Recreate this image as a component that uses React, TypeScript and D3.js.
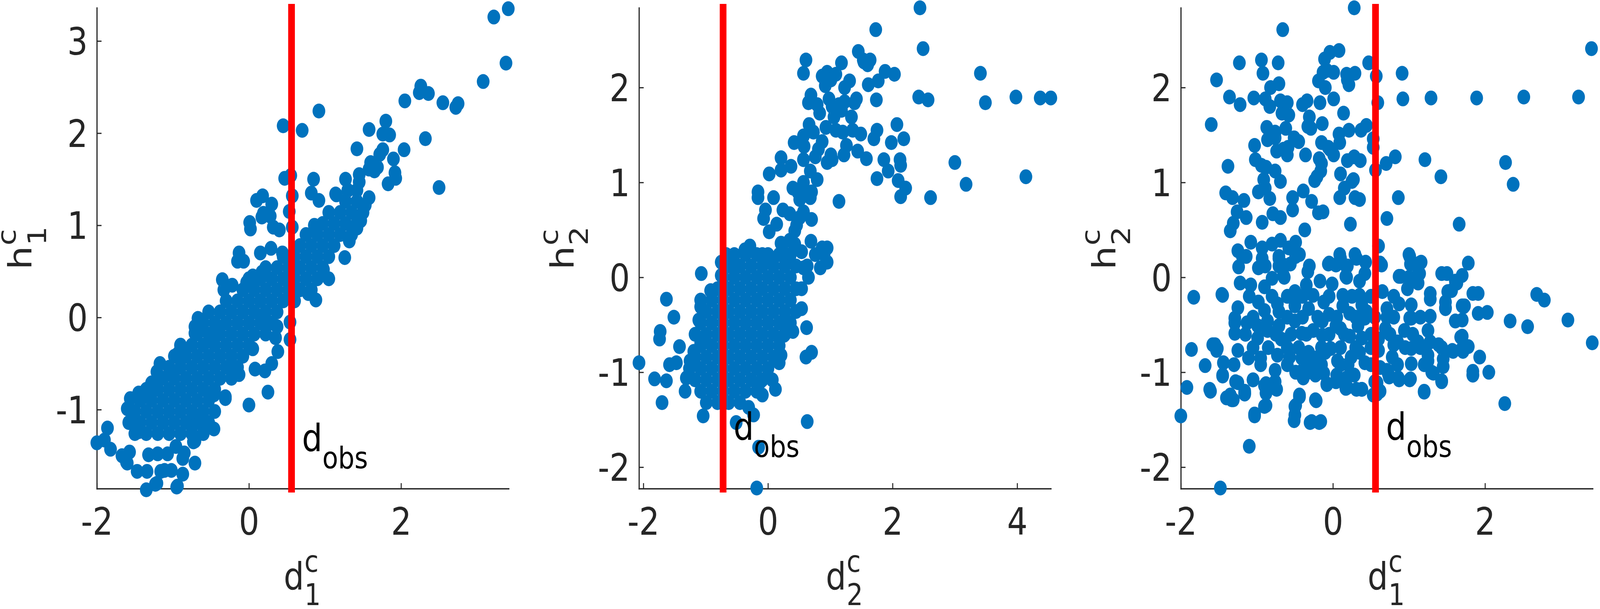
import * as d3 from "d3";
import { useEffect, useRef } from "react";

const VIEW_W = 4775;
const VIEW_H = 1558;
const TOP = 20;
const BOTTOM = 1250;
const PANEL_LEFT = [289, 1907, 3524];
const PANEL_W = 1229;
const TICK = 14;
const DOT_R = 19;
const FONT = "'DejaVu Sans', Verdana, sans-serif";
const AXIS_COLOR = "#262626";
const BLUE = "#0072BD";
const RED = "#FF0000";
const MAIN_SIZE = 96;
const SUB_SIZE = 77;

// axis limits (tight to data)
const limD1 = [-2.0, 3.415];
const limD2 = [-2.07, 4.54];
const limH1 = [-1.857, 3.36];
const limH2 = [-2.226, 2.84];

const ticksD1 = [-2, 0, 2];
const ticksD2 = [-2, 0, 2, 4];
const ticksH1 = [-1, 0, 1, 2, 3];
const ticksH2 = [-2, -1, 0, 1, 2];

// observed values (red lines)
const dObs1 = 0.56;
const dObs2 = -0.72;

// panel 1: (d1, h1)
const d1h1: [number, number][] = [
	[3.41, 3.35], [3.22, 3.26], [3.38, 2.76], [3.08, 2.56], [2.75, 2.32], [2.72, 2.28], [2.55, 2.33],
	[2.32, 1.94], [2.5, 1.41], [2.26, 2.51], [2.24, 2.44], [2.36, 2.43], [2.05, 2.35], [2.04, 1.82],
	[1.8, 2.13], [1.76, 1.99], [1.85, 1.98], [1.58, 2.04], [1.42, 1.83], [1.76, 1.82], [1.72, 1.77],
	[1.9, 1.72], [1.92, 1.57], [1.93, 1.51], [1.83, 1.45], [1.6, 1.68], [1.65, 1.59], [1.69, 1.63],
	[1.58, 1.61], [1.45, 1.55], [1.45, 1.47], [1.42, 1.38], [1.58, 1.3], [1.53, 1.22], [1.27, 1.5],
	[1.3, 1.38], [1.14, 1.34], [1.47, 1.05], [1.42, 0.97], [1.32, 0.83], [1.26, 0.65],
	[0.92, 2.24], [0.7, 2.03], [0.45, 2.08], [0.47, 1.51], [0.55, 1.54], [0.57, 1.32], [0.53, 1.15],
	[0.57, 0.98], [0.85, 1.5], [0.82, 1.35], [0.92, 1.27], [0.1, 1.27], [0.18, 1.32], [0.3, 1.23],
	[0.19, 1.13], [0.17, 1.09], [0.28, 1.1], [0.01, 1.03], [0.02, 0.96], [0.32, 0.98], [0.4, 0.95],
	[-0.13, 0.7], [-0.15, 0.61], [-0.07, 0.61], [0.15, 0.7], [0.29, 0.75], [0.44, 0.7], [-0.35, 0.41],
	[-0.33, 0.3], [-0.22, 0.35], [-0.03, 0.38], [0.05, 0.45], [0.17, 0.49], [0.86, 1.0], [1.15, 1.33],
	[0.98, 0.52], [0.88, 0.19], [0.78, 0.26],
	[-0.67, -0.01], [-0.71, -0.1], [-0.71, -0.17], [-0.62, -0.11], [-0.41, -0.12], [-0.46, -0.22],
	[0.05, -0.34], [0.17, -0.05], [0.37, -0.1], [0.35, -0.22], [0.38, -0.37], [0.3, -0.5], [0.54, -0.05],
	[0.54, -0.24], [0.08, -0.56], [0.21, -0.58], [0.25, -0.81], [0.0, -0.95], [-0.13, -0.62],
	[-0.17, -0.54], [-0.31, -0.86], [-0.31, -0.88], [-0.46, -0.84], [-0.46, -1.21], [-0.71, -1.58],
	[-0.73, -1.35], [-0.87, -1.7], [-0.95, -1.84], [-1.21, -1.8], [-1.35, -1.87], [-1.16, -1.67],
	[-1.11, -1.66], [-1.02, -1.66], [-1.34, -1.67], [-1.47, -1.67], [-1.61, -1.57], [-1.67, -1.5],
	[-1.57, -1.46], [-1.82, -1.43], [-1.9, -1.33], [-2.0, -1.36], [-1.86, -1.2], [-1.32, -1.49],
	[-1.2, -1.48], [-1.07, -1.48], [-0.96, -1.4], [-0.85, -1.47], [-1.45, -1.24], [-1.52, -1.11],
	[-1.6, -0.99], [-1.56, -0.88], [-1.45, -0.82], [-1.34, -0.86], [-1.3, -0.77], [-1.28, -0.71],
	[-1.21, -0.59], [-1.17, -0.5], [-1.02, -0.6], [-0.93, -0.39], [-0.89, -0.37], [-0.71, -1.34],
	[-0.73, -1.14], [-0.58, -1.14], [-0.62, -1.09], [-1.6, -1.58], [-1.23, -1.81], [-0.94, -1.83],
	[-0.87, -1.53], [-0.6, -1.13],
	// dense band
	[-1.5, -1.26], [-1.35, -1.26], [-1.2, -1.26], [-1.05, -1.26], [-0.9, -1.26], [-0.75, -1.26], [-0.6, -1.26],
	[-1.58, -1.14], [-1.43, -1.14], [-1.28, -1.14], [-1.13, -1.14], [-0.98, -1.14], [-0.83, -1.14], [-0.68, -1.14], [-0.53, -1.14],
	[-1.5, -1.02], [-1.35, -1.02], [-1.2, -1.02], [-1.05, -1.02], [-0.9, -1.02], [-0.75, -1.02], [-0.6, -1.02], [-0.45, -1.02],
	[-1.43, -0.9], [-1.28, -0.9], [-1.13, -0.9], [-0.98, -0.9], [-0.83, -0.9], [-0.68, -0.9], [-0.53, -0.9],
	[-1.35, -0.78], [-1.2, -0.78], [-1.05, -0.78], [-0.9, -0.78], [-0.75, -0.78], [-0.6, -0.78], [-0.45, -0.78],
	[-1.13, -0.66], [-0.98, -0.66], [-0.83, -0.66], [-0.68, -0.66], [-0.53, -0.66], [-0.38, -0.66], [-0.23, -0.66],
	[-1.05, -0.54], [-0.9, -0.54], [-0.75, -0.54], [-0.6, -0.54], [-0.45, -0.54], [-0.3, -0.54], [-0.15, -0.54],
	[-0.98, -0.42], [-0.83, -0.42], [-0.68, -0.42], [-0.53, -0.42], [-0.38, -0.42], [-0.23, -0.42], [-0.08, -0.42],
	[-0.9, -0.3], [-0.75, -0.3], [-0.6, -0.3], [-0.45, -0.3], [-0.3, -0.3], [-0.15, -0.3], [0.0, -0.3],
	[-0.68, -0.18], [-0.53, -0.18], [-0.38, -0.18], [-0.23, -0.18], [-0.08, -0.18], [0.07, -0.18], [0.22, -0.18],
	[-0.6, -0.06], [-0.45, -0.06], [-0.3, -0.06], [-0.15, -0.06], [0.0, -0.06], [0.15, -0.06], [0.3, -0.06],
	[-0.53, 0.06], [-0.38, 0.06], [-0.23, 0.06], [-0.08, 0.06], [0.07, 0.06], [0.22, 0.06], [0.37, 0.06],
	[-0.3, 0.18], [-0.15, 0.18], [0.0, 0.18], [0.15, 0.18], [0.3, 0.18], [0.45, 0.18], [0.6, 0.18],
	[-0.08, 0.3], [0.07, 0.3], [0.22, 0.3], [0.37, 0.3], [0.52, 0.3], [0.67, 0.3], [0.82, 0.3],
	[0.0, 0.42], [0.15, 0.42], [0.3, 0.42], [0.45, 0.42], [0.6, 0.42], [0.75, 0.42], [0.9, 0.42], [1.05, 0.42],
	[0.22, 0.54], [0.37, 0.54], [0.52, 0.54], [0.67, 0.54], [0.82, 0.54], [0.97, 0.54],
	[0.45, 0.66], [0.6, 0.66], [0.75, 0.66], [0.9, 0.66], [1.05, 0.66],
	[0.67, 0.78], [0.82, 0.78], [0.97, 0.78], [1.12, 0.78],
	[0.75, 0.9], [0.9, 0.9], [1.05, 0.9], [1.2, 0.9], [1.35, 0.9],
	[0.97, 1.02], [1.12, 1.02], [1.27, 1.02], [1.42, 1.02],
	[1.05, 1.14], [1.2, 1.14], [1.35, 1.14], [1.5, 1.14],
	[1.27, 1.26], [1.42, 1.26],
];

// panel 2: (d2, h2)
const d2h2: [number, number][] = [
	[2.44, 2.84], [2.49, 2.41], [1.73, 2.61], [3.41, 2.15], [3.49, 1.84], [3.98, 1.9], [4.37, 1.89],
	[4.54, 1.89], [2.42, 1.9], [2.57, 1.87], [3.0, 1.21], [3.18, 0.98], [4.14, 1.06], [2.61, 0.84],
	[2.07, 1.61], [2.18, 1.46], [1.98, 1.42], [2.12, 1.24], [2.13, 1.18], [2.09, 1.02], [2.21, 0.94],
	[2.13, 0.85], [1.93, 1.12], [1.86, 1.24], [1.75, 1.04], [1.75, 1.55], [1.7, 1.46], [1.74, 1.87],
	[2.03, 2.14], [1.88, 2.17], [1.77, 2.07], [1.61, 2.03], [1.64, 2.29], [1.54, 2.27], [1.6, 2.24],
	[1.45, 2.38], [1.53, 2.29], [1.18, 2.26], [1.31, 2.07], [1.23, 2.0], [0.95, 2.16], [1.01, 2.08],
	[1.09, 2.14], [0.87, 2.12], [0.92, 2.02], [0.61, 2.29], [0.57, 2.15], [0.69, 1.92], [0.65, 1.84],
	[0.79, 1.82], [0.83, 1.73], [0.98, 1.88], [1.03, 1.8], [1.14, 1.82], [1.23, 1.85], [1.39, 1.84],
	[1.42, 1.88], [1.34, 1.69], [1.18, 1.76], [1.06, 1.69], [0.66, 1.61], [0.73, 1.53], [0.93, 1.58],
	[1.09, 1.55], [1.2, 1.53], [1.36, 1.55], [1.49, 1.51], [0.42, 1.42], [0.57, 1.49], [0.58, 1.38],
	[0.87, 1.43], [0.81, 1.35], [0.76, 1.27], [1.26, 1.39], [1.22, 1.29], [1.44, 1.33], [1.58, 1.25],
	[1.01, 1.29], [0.95, 1.21], [1.03, 1.24], [0.21, 1.26], [0.21, 1.13], [0.37, 1.17], [0.57, 1.24],
	[0.68, 1.12], [0.79, 1.03], [0.57, 1.0], [0.02, 1.09], [-0.16, 0.9], [-0.16, 0.84], [0.09, 0.84],
	[0.4, 0.94], [0.48, 0.9], [0.57, 0.92], [0.68, 0.84], [0.7, 0.9], [0.51, 0.82], [1.14, 0.8],
	[-0.04, 0.71], [-0.07, 0.62], [0.02, 0.48], [0.14, 0.56], [0.24, 0.71], [0.35, 0.67], [0.51, 0.63],
	[0.57, 0.69], [0.7, 0.61], [0.46, 0.55], [0.43, 0.49], [0.21, 0.36], [0.35, 0.39], [0.43, 0.35],
	[0.24, 0.27], [0.35, 0.22], [0.54, 0.27], [0.69, 0.38], [0.87, 0.31], [0.95, 0.31], [0.9, 0.24],
	[0.95, 0.16], [0.84, 0.1], [0.76, 0.24], [0.65, 0.0], [0.54, -0.12], [0.57, 0.1], [0.54, -0.33],
	[0.62, -0.53], [0.61, -0.84], [0.7, -0.79], [0.63, -1.52], [-0.18, -2.22], [-0.15, -1.79],
	[-0.51, -1.53], [-0.23, -1.45], [-0.31, -1.37], [0.12, -1.18], [0.07, -1.08], [0.18, -0.9],
	[0.21, -0.82], [-0.09, -1.24], [-0.12, -1.1], [0.35, -0.53], [0.4, -0.57], [0.32, -0.47],
	[0.26, -0.61], [-1.04, -1.46], [-1.7, -1.32], [-1.82, -1.07], [-2.07, -0.9], [-1.63, -1.09],
	[-1.33, -1.2], [-1.58, -0.92], [-1.47, -0.9], [-1.42, -0.73], [-1.73, -0.57], [-1.74, -0.65],
	[-1.51, -0.42], [-1.63, -0.23], [-1.07, 0.04], [-0.92, -0.14], [-1.08, -0.31], [-1.11, -0.45],
	[-1.08, -0.69], [-1.19, -0.78], [-1.25, -0.88], [-1.31, -1.06], [-0.75, 0.16], [-0.67, 0.24],
	[-0.75, 0.02], [-0.53, 0.11], [-0.37, 0.29], [-0.29, 0.33], [-0.09, 0.24], [0.07, 0.16],
	// dense cluster
	[-0.54, 0.24], [-0.36, 0.24], [-0.18, 0.24], [0.0, 0.24], [0.18, 0.24], [0.36, 0.24],
	[-0.63, 0.12], [-0.45, 0.12], [-0.27, 0.12], [-0.09, 0.12], [0.09, 0.12], [0.27, 0.12], [0.45, 0.12], [0.63, 0.12],
	[-0.72, 0.0], [-0.54, 0.0], [-0.36, 0.0], [-0.18, 0.0], [0.0, 0.0], [0.18, 0.0], [0.36, 0.0],
	[-0.81, -0.12], [-0.63, -0.12], [-0.45, -0.12], [-0.27, -0.12], [-0.09, -0.12], [0.09, -0.12], [0.27, -0.12], [0.45, -0.12],
	[-1.08, -0.24], [-0.9, -0.24], [-0.72, -0.24], [-0.54, -0.24], [-0.36, -0.24], [-0.18, -0.24], [0.0, -0.24], [0.18, -0.24], [0.36, -0.24],
	[-0.99, -0.36], [-0.81, -0.36], [-0.63, -0.36], [-0.45, -0.36], [-0.27, -0.36], [-0.09, -0.36], [0.09, -0.36], [0.27, -0.36], [0.45, -0.36],
	[-1.08, -0.48], [-0.9, -0.48], [-0.72, -0.48], [-0.54, -0.48], [-0.36, -0.48], [-0.18, -0.48], [0.0, -0.48], [0.18, -0.48], [0.36, -0.48],
	[-1.17, -0.6], [-0.99, -0.6], [-0.81, -0.6], [-0.63, -0.6], [-0.45, -0.6], [-0.27, -0.6], [-0.09, -0.6], [0.09, -0.6], [0.27, -0.6],
	[-1.08, -0.72], [-0.9, -0.72], [-0.72, -0.72], [-0.54, -0.72], [-0.36, -0.72], [-0.18, -0.72], [0.0, -0.72], [0.18, -0.72],
	[-1.17, -0.84], [-0.99, -0.84], [-0.81, -0.84], [-0.63, -0.84], [-0.45, -0.84], [-0.27, -0.84], [-0.09, -0.84], [0.09, -0.84],
	[-1.26, -0.96], [-1.08, -0.96], [-0.9, -0.96], [-0.72, -0.96], [-0.54, -0.96], [-0.36, -0.96], [-0.18, -0.96], [0.0, -0.96],
	[-1.17, -1.08], [-0.99, -1.08], [-0.81, -1.08], [-0.63, -1.08], [-0.45, -1.08], [-0.27, -1.08], [-0.09, -1.08],
	[-1.08, -1.2], [-0.9, -1.2], [-0.72, -1.2], [-0.54, -1.2], [-0.36, -1.2], [-0.18, -1.2],
	[-0.99, -1.32], [-0.81, -1.32], [-0.63, -1.32], [-0.45, -1.32],
];

// panel 3: (d1, h2)
const d1h2: [number, number][] = [
	[0.28, 2.84], [-0.66, 2.61], [3.4, 2.41], [-1.23, 2.26], [-0.94, 2.29], [-0.92, 2.15], [-0.72, 2.26],
	[-1.53, 2.08], [-1.36, 1.9], [-1.22, 1.82], [-1.04, 1.89], [-0.89, 1.88], [-0.82, 2.0], [-0.71, 2.04],
	[-0.83, 1.8], [-0.67, 1.73], [-0.6, 1.84], [-0.58, 1.71], [-0.69, 1.86], [-1.6, 1.61], [-0.87, 1.58],
	[-0.76, 1.53], [-0.62, 1.57], [-0.86, 1.45], [-0.76, 1.47], [-1.03, 1.39], [-0.51, 1.47], [-0.45, 1.43],
	[-0.4, 1.82], [-0.34, 1.86], [-0.31, 1.69], [-0.29, 1.57], [-0.33, 1.59], [-0.14, 1.62], [-0.17, 1.84],
	[-0.11, 2.3], [-0.13, 2.16], [-0.08, 2.18], [-0.19, 2.07], [-0.1, 2.0], [-0.04, 2.37], [0.08, 2.39],
	[0.01, 2.16], [0.01, 1.88], [0.14, 1.73], [0.18, 2.14], [0.21, 2.03], [0.19, 2.08], [0.29, 2.15],
	[0.47, 2.26], [0.57, 2.12], [0.59, 1.84], [0.91, 2.15], [0.92, 1.88], [1.29, 1.89], [1.89, 1.89],
	[2.51, 1.9], [3.23, 1.9], [0.44, 1.6], [0.37, 1.55], [0.21, 1.55], [0.08, 1.51], [0.09, 1.42],
	[0.53, 1.46], [0.53, 1.37], [-0.15, 1.42], [-0.06, 1.37], [0.01, 1.29], [-0.04, 1.35], [-0.18, 1.25],
	[-0.15, 1.2], [-0.16, 1.12], [-0.21, 1.06], [-0.24, 1.02], [-0.36, 1.29], [0.19, 1.23], [0.28, 1.27],
	[0.36, 1.23], [0.1, 1.09], [0.27, 1.03], [0.25, 1.01], [0.15, 0.94], [0.09, 0.84], [0.29, 0.84],
	[0.35, 0.82], [0.56, 1.13], [0.7, 1.2], [0.82, 1.27], [1.21, 1.24], [1.42, 1.06], [0.86, 0.84],
	[0.71, 0.62], [0.23, 0.56], [1.66, 0.56], [2.27, 1.21], [2.37, 0.98], [-1.02, 1.24], [-0.94, 1.18],
	[-0.88, 1.16], [-0.74, 1.33], [-0.76, 1.12], [-0.69, 1.01], [-0.6, 1.29], [-0.65, 1.35], [-0.59, 1.37],
	[-1.38, 1.17], [-0.91, 1.03], [-0.89, 0.94], [-0.98, 0.9], [-0.83, 0.83], [-1.41, 0.89], [-1.32, 0.84],
	[-1.17, 0.81], [-0.53, 0.84], [-0.53, 0.71], [-0.39, 0.91], [-0.28, 0.8], [-0.19, 0.68], [-0.13, 0.69],
	[-1.26, 0.69], [-1.14, 0.63], [-1.31, 0.57], [-1.35, 0.49], [-0.93, 0.58], [-0.79, 0.67], [-0.69, 0.63],
	[-0.37, 0.5], [-1.25, 0.28], [-1.14, 0.22], [-1.24, 0.11], [-1.08, 0.37], [-0.93, 0.31], [-0.8, 0.35],
	[-0.69, 0.39], [-0.58, 0.31], [-0.49, 0.37], [-0.44, 0.24], [-0.98, 0.1], [-0.89, 0.12], [-0.71, 0.22],
	[-0.71, 0.12], [-0.65, 0.02], [-0.56, 0.14], [-1.22, -0.06], [-1.08, -0.08], [-0.31, 0.12], [-0.33, 0.06],
	[-0.06, 0.14], [0.09, 0.24], [0.18, 0.11], [0.18, 0.0], [0.29, 0.24], [0.6, 0.33], [0.64, 0.13],
	[1.0, 0.24], [1.02, 0.14], [1.16, 0.16], [1.14, 0.04], [0.89, 0.01], [1.0, 0.0], [1.5, 0.04],
	[1.7, 0.02], [1.63, -0.06], [1.56, -0.14], [1.78, 0.15], [1.91, -0.17], [2.03, -0.37], [1.91, -0.38],
	[1.72, -0.31], [1.7, -0.45], [1.68, -0.63], [1.61, -0.46], [1.48, -0.33], [2.68, -0.18], [2.78, -0.24],
	[2.33, -0.46], [2.56, -0.52], [3.09, -0.45], [3.41, -0.69], [1.93, -0.84], [1.78, -0.73], [1.71, -0.78],
	[1.84, -0.99], [1.84, -1.03], [2.05, -1.0], [2.26, -1.33], [1.58, -0.78], [1.45, -0.86], [1.45, -0.94],
	[1.43, -1.09], [1.3, -1.0], [1.25, -0.88], [1.2, -1.2], [1.02, -1.07], [0.86, -1.06], [0.73, -1.02],
	[0.62, -1.2], [0.53, -1.24], [0.55, -1.1], [0.38, -1.18], [0.31, -1.18], [0.19, -1.16], [0.18, -1.06],
	[-0.08, -1.12], [0.05, -1.03], [0.1, -0.92], [-0.23, -1.29], [-0.16, -1.52], [-0.28, -1.52],
	[-0.44, -1.24], [-0.49, -1.35], [-0.5, -1.45], [-0.51, -1.51], [-0.49, -1.0], [-0.4, -1.04],
	[-0.33, -1.0], [-0.76, -1.1], [-0.74, -1.18], [-0.88, -1.12], [-0.88, -1.22], [-0.88, -1.35],
	[-1.03, -1.44], [-1.05, -1.08], [-1.1, -1.78], [-1.16, -1.22], [-1.28, -1.1], [-1.35, -1.24],
	[-1.33, -1.29], [-1.4, -1.27], [-1.45, -1.04], [-1.44, -0.9], [-1.48, -2.22], [-2.0, -1.46],
	[-1.92, -1.16], [-1.62, -1.18], [-1.68, -0.93], [-1.86, -0.76], [-1.55, -0.71], [-1.52, -0.75],
	[-1.83, -0.21], [-1.46, -0.18],
	// lower cloud
	[-1.19, 0.22], [-0.93, 0.2], [-0.71, 0.2], [-0.49, 0.22], [-0.05, 0.15], [0.1, 0.2], [0.19, 0.12],
	[0.31, 0.2], [0.43, 0.16], [0.62, 0.15], [1.01, 0.22], [1.14, 0.15], [-0.65, 0.13], [0.04, 0.13],
	[-1.45, -0.19], [-0.9, -0.1], [-0.8, -0.01], [-0.64, 0.0], [-0.5, -0.15], [-0.35, -0.08], [-0.26, -0.19],
	[-0.17, -0.04], [-0.01, -0.07], [0.13, -0.19], [0.17, 0.01], [0.35, -0.04], [0.35, -0.19], [0.42, 0.04],
	[0.65, -0.15], [0.87, 0.01], [0.98, -0.12], [1.12, 0.03], [1.12, -0.06], [1.28, -0.17], [1.43, 0.04],
	[1.61, -0.04], [1.51, -0.15], [1.7, -0.3], [1.84, -0.17],
	[-1.25, -0.32], [-1.29, -0.43], [-0.98, -0.26], [-0.9, -0.35], [-0.73, -0.28], [-0.71, -0.36],
	[-0.5, -0.3], [-0.32, -0.33], [-0.12, -0.26], [-0.05, -0.39], [0.13, -0.3], [0.22, -0.38], [0.38, -0.29],
	[0.44, -0.36], [0.71, -0.33], [0.87, -0.28], [1.03, -0.29], [1.01, -0.43], [1.28, -0.41], [1.48, -0.32],
	[1.28, -0.23], [1.48, -0.26], [1.61, -0.46], [1.73, -0.3],
	[-1.29, -0.48], [-1.29, -0.59], [-1.13, -0.48], [-0.99, -0.51], [-0.99, -0.64], [-0.86, -0.46],
	[-0.86, -0.56], [-0.71, -0.51], [-0.68, -0.65], [-0.5, -0.46], [-0.41, -0.59], [-0.26, -0.56],
	[-0.14, -0.46], [-0.14, -0.61], [0.04, -0.51], [0.1, -0.54], [0.22, -0.62], [0.33, -0.51], [0.38, -0.64],
	[0.42, -0.43], [0.6, -0.65], [0.69, -0.54], [0.71, -0.42], [0.85, -0.68], [0.94, -0.56], [1.03, -0.43],
	[1.12, -0.68], [1.25, -0.56], [1.28, -0.68], [1.39, -0.71], [1.7, -0.62],
	[-1.58, -0.71], [-1.53, -0.77], [-1.25, -0.77], [-1.11, -0.85], [-0.95, -0.85], [-0.73, -0.82],
	[-0.57, -0.84], [-0.41, -0.85], [-0.32, -0.79], [-0.23, -0.85], [-0.1, -0.79], [0.06, -0.88],
	[-0.03, -0.75], [0.24, -0.84], [0.35, -0.79], [0.42, -0.9], [0.6, -0.77], [0.78, -0.84], [0.8, -0.71],
	[1.03, -0.75], [1.03, -0.91], [1.25, -0.82], [1.43, -0.74], [1.57, -0.77], [1.7, -0.75],
	[-1.45, -1.03], [-1.25, -1.11], [-1.16, -1.2], [-1.05, -1.08], [-0.9, -1.14], [-0.76, -0.98],
	[-0.41, -0.99], [-0.39, -1.06], [-0.23, -1.03], [-0.12, -1.01], [-0.08, -1.13], [0.04, -1.1],
	[0.17, -1.17], [0.28, -1.03], [0.38, -1.18], [0.58, -1.23], [0.58, -1.11], [0.74, -1.05], [0.87, -1.08],
	[1.01, -1.08], [0.62, -0.95], [0.71, -0.98], [1.32, -1.01], [1.43, -1.1], [1.84, -1.03],
	[-1.31, -1.29], [-1.16, -1.23], [-0.9, -1.36], [-1.03, -1.46], [-0.44, -1.26], [-0.5, -1.36],
	[-0.22, -1.3], [-0.3, -1.53], [-0.18, -1.53], [1.2, -1.21], [-1.61, -1.2],
	// core of the lower cloud, where marks overlap
	[-1.1, -0.2], [-0.8, -0.2], [-0.6, -0.2], [-0.4, -0.2], [-0.05, -0.2], [0.25, -0.2], [0.5, -0.2], [0.8, -0.2],
	[-1.05, -0.42], [-0.6, -0.42], [-0.4, -0.42], [-0.2, -0.42], [0.05, -0.42], [0.3, -0.42], [0.55, -0.42], [0.8, -0.42], [1.15, -0.42],
	[-1.15, -0.6], [-0.75, -0.6], [-0.55, -0.6], [-0.35, -0.6], [-0.05, -0.6], [0.15, -0.6], [0.5, -0.6], [0.75, -0.6], [1.05, -0.6],
	[-1.05, -0.74], [-0.85, -0.74], [-0.6, -0.74], [-0.45, -0.74], [-0.15, -0.74], [0.1, -0.74], [0.3, -0.74], [0.5, -0.74], [0.95, -0.74], [1.15, -0.74],
	[-1.3, -0.92], [-0.95, -0.92], [-0.6, -0.92], [-0.3, -0.92], [-0.15, -0.92], [0.2, -0.92], [0.5, -0.92], [0.85, -0.92], [1.2, -0.92],
];

// label text: [main, superscript, subscript]
const xLabels = [["d", "c", "1"], ["d", "c", "2"], ["d", "c", "1"]];
const yLabels = [["h", "c", "1"], ["h", "c", "2"], ["h", "c", "2"]];

// layout of the d_obs annotation (baseline, in data units)
const OBS_LABEL_Y = [-1.45, -1.71, -1.71];

const panels = [
	{ pts: d1h1, xLim: limD1, yLim: limH1, xTicks: ticksD1, yTicks: ticksH1, obs: dObs1 },
	{ pts: d2h2, xLim: limD2, yLim: limH2, xTicks: ticksD2, yTicks: ticksH2, obs: dObs2 },
	{ pts: d1h2, xLim: limD1, yLim: limH2, xTicks: ticksD1, yTicks: ticksH2, obs: dObs1 },
];

export default function App() {
	const svgRef = useRef<SVGSVGElement>(null);

	useEffect(() => {
		const svg = svgRef.current;
		if (!svg) return;
		const root = d3.select(svg);
		root.selectAll("*").remove();

		panels.forEach((p, i) => {
			const left = PANEL_LEFT[i];
			const right = left + PANEL_W;
			const x = d3.scaleLinear().domain(p.xLim).range([left, right]);
			const y = d3.scaleLinear().domain(p.yLim).range([BOTTOM, TOP]);
			const g = root.append("g");

			// axes (under the data, like MATLAB's default layer)
			const xa = g
				.append("g")
				.attr("transform", `translate(0,${BOTTOM})`)
				.call(
					d3
						.axisBottom(x)
						.tickValues(p.xTicks)
						.tickSizeInner(-TICK)
						.tickSizeOuter(0)
						.tickPadding(50)
						.tickFormat((d) => String(d))
				);
			const ya = g
				.append("g")
				.attr("transform", `translate(${left},0)`)
				.call(
					d3
						.axisLeft(y)
						.tickValues(p.yTicks)
						.tickSizeInner(-TICK)
						.tickSizeOuter(0)
						.tickPadding(27)
						.tickFormat((d) => String(d))
				);
			[xa, ya].forEach((a) => {
				a.attr("font-family", FONT).attr("font-size", MAIN_SIZE);
				a.select(".domain").attr("stroke", AXIS_COLOR).attr("stroke-width", 3.5).attr("stroke-linecap", "square");
				a.selectAll(".tick line").attr("stroke", AXIS_COLOR).attr("stroke-width", 3);
				a.selectAll(".tick text").attr("fill", AXIS_COLOR);
			});
			ya.selectAll(".tick text").attr("dy", "0.36em");

			// points
			g.append("g")
				.selectAll("circle")
				.data(p.pts)
				.join("circle")
				.attr("cx", (d) => x(d[0]))
				.attr("cy", (d) => y(d[1]))
				.attr("r", DOT_R)
				.attr("fill", BLUE);

			// observed value
			g.append("line")
				.attr("x1", x(p.obs))
				.attr("x2", x(p.obs))
				.attr("y1", TOP)
				.attr("y2", BOTTOM)
				.attr("stroke", RED)
				.attr("stroke-width", 20)
				.attr("stroke-linecap", "square");

			const obsText = g
				.append("text")
				.attr("x", x(p.obs) + 31)
				.attr("y", y(OBS_LABEL_Y[i]))
				.attr("font-family", FONT)
				.attr("font-size", MAIN_SIZE)
				.attr("fill", "#000");
			obsText.append("tspan").text("d");
			obsText.append("tspan").attr("dy", 44).attr("font-size", SUB_SIZE).text("obs");

			// x label: main letter with stacked super/subscript
			const cx = (left + right) / 2;
			const xl = g
				.append("g")
				.attr("transform", `translate(${cx - 57},${BOTTOM + 258})`)
				.attr("font-family", FONT)
				.attr("fill", AXIS_COLOR);
			const [xm, xsup, xsub] = xLabels[i];
			xl.append("text").attr("font-size", MAIN_SIZE).text(xm);
			xl.append("text").attr("x", 62).attr("y", -45).attr("font-size", SUB_SIZE).text(xsup);
			xl.append("text").attr("x", 62).attr("y", 40).attr("font-size", SUB_SIZE).text(xsub);

			// y label, rotated
			const cy = (TOP + BOTTOM) / 2;
			const yl = g
				.append("g")
				.attr("transform", `translate(${left - 196},${cy}) rotate(-90) translate(-55,0)`)
				.attr("font-family", FONT)
				.attr("fill", AXIS_COLOR);
			const [ym, ysup, ysub] = yLabels[i];
			yl.append("text").attr("font-size", MAIN_SIZE).text(ym);
			yl.append("text").attr("x", 62).attr("y", -46).attr("font-size", SUB_SIZE).text(ysup);
			yl.append("text").attr("x", 62).attr("y", 44).attr("font-size", SUB_SIZE).text(ysub);
		});
	}, []);

	return (
		<>
			<style>{"html,body{margin:0;padding:0;overflow:hidden;background:#fff}"}</style>
			<svg
				ref={svgRef}
				viewBox={`0 0 ${VIEW_W} ${VIEW_H}`}
				preserveAspectRatio="none"
				style={{ display: "block", width: "100vw", height: "100vh", background: "#fff" }}
			/>
		</>
	);
}
